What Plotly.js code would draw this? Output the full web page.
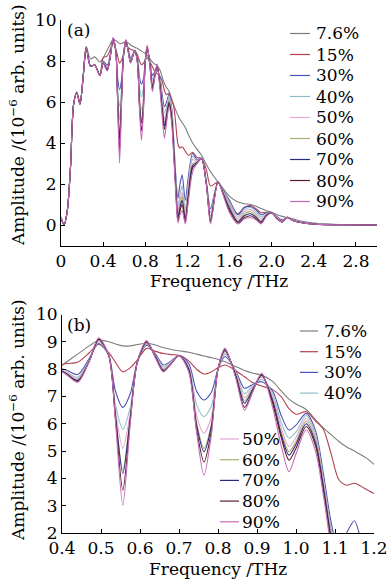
<!DOCTYPE html>
<html><head><meta charset="utf-8">
<script src="https://cdn.plot.ly/plotly-3.0.1.min.js"></script>
<style>html,body{margin:0;padding:0;background:#fff}#chart{width:391px;height:580px}</style>
</head><body><div id="chart"></div>
<script>
// Frequency grid (THz)
const freq = [0,0.03,0.06,0.09,0.12,0.15,0.18,0.21,0.24,0.28,0.32,0.37,0.40,0.44,0.47,0.494,0.52,0.537,0.556,0.575,0.593,0.617,0.64,0.66,0.68,0.70,0.725,0.745,0.764,0.783,0.80,0.818,0.845,0.868,0.89,0.912,0.94,0.962,0.982,1.0,1.026,1.05,1.07,1.09,1.11,1.13,1.15,1.18,1.21,1.25,1.29,1.334,1.38,1.42,1.49,1.55,1.60,1.68,1.74,1.80,1.85,1.90,1.95,2.00,2.05,2.10,2.15,2.20,2.30,2.40,2.50,2.70,3.00];
// Amplitude (10^-6 arb. units) per series
const s7_6 = [0.35,0.02,0.7,2.8,5.9,6.5,6.0,7.3,8.7,8.1,8.2,7.95,8.15,8.55,8.85,9.06,9.0,8.92,8.85,8.85,8.9,8.95,8.88,8.78,8.72,8.67,8.62,8.55,8.48,8.42,8.36,8.27,8.1,7.95,7.85,7.78,7.55,7.2,6.9,6.72,6.52,6.15,5.85,5.6,5.35,5.15,5.0,4.75,4.4,4.0,3.7,3.4,2.95,2.6,2.1,1.7,1.4,1.12,1.04,1.0,0.92,0.8,0.7,0.62,0.5,0.42,0.36,0.3,0.17,0.1,0.06,0.02,0.0];
const s15 = [0.35,0.02,0.7,2.8,5.9,6.45,5.9,7.2,8.65,7.75,7.8,7.3,8.15,8.25,8.6,8.91,8.6,8.25,7.9,8.05,8.33,8.76,8.65,8.57,8.53,8.51,8.3,8.0,7.82,7.9,8.05,8.15,7.95,7.72,7.5,7.38,7.25,6.99,6.55,6.35,6.44,6.1,5.8,4.9,3.95,3.75,3.82,3.6,3.4,3.55,3.3,3.25,2.7,1.9,2.1,1.5,1.0,0.55,0.85,0.95,0.8,0.6,0.62,0.6,0.4,0.25,0.35,0.25,0.12,0.06,0.03,0.01,0];
const s30 = [0.35,0.02,0.7,2.8,5.9,6.45,5.9,7.2,8.65,7.75,7.8,7.3,8.0,7.8,8.4,8.94,8.5,7.2,6.6,7.1,8.25,8.88,8.55,8.15,8.3,8.5,8.2,7.2,6.87,7.15,8.0,8.46,7.95,7.3,7.45,7.54,7.2,6.3,5.77,5.95,6.38,5.75,4.2,2.4,1.3,2.0,2.45,1.2,2.4,3.5,3.2,3.25,2.1,0.8,2.1,1.6,1.2,0.5,0.85,0.9,0.75,0.5,0.58,0.6,0.4,0.2,0.38,0.25,0.12,0.06,0.03,0.01,0];
const s40 = [0.35,0.02,0.7,2.8,5.9,6.45,5.9,7.2,8.65,7.75,7.8,7.3,7.95,7.7,8.35,9.0,8.5,6.7,5.8,6.6,8.25,8.92,8.5,8.08,8.28,8.5,8.1,6.7,6.26,6.65,8.0,8.55,7.9,7.1,7.4,7.62,7.1,6.05,5.47,5.7,6.3,5.6,4.0,2.15,0.9,1.5,1.9,0.8,2.1,3.35,3.15,3.25,2.05,0.6,2.1,1.55,1.1,0.4,0.75,0.85,0.65,0.4,0.55,0.6,0.38,0.18,0.38,0.25,0.12,0.06,0.03,0.01,0];
const s50 = [0.35,0.02,0.7,2.8,5.9,6.45,5.9,7.2,8.65,7.75,7.8,7.3,7.95,7.65,8.3,9.05,8.5,6.5,5.1,6.4,8.25,8.96,8.48,8.02,8.25,8.5,8.05,6.3,5.65,6.25,8.0,8.6,7.9,6.95,7.35,7.7,7.0,5.85,5.16,5.5,6.2,5.5,3.9,2.0,0.7,1.2,1.6,0.6,1.9,3.2,3.1,3.25,2.0,0.45,2.1,1.5,1.0,0.3,0.65,0.75,0.55,0.3,0.52,0.6,0.36,0.17,0.38,0.24,0.11,0.05,0.03,0.01,0];
const s60 = [0.35,0.02,0.7,2.8,5.9,6.45,5.9,7.2,8.65,7.75,7.8,7.3,7.92,7.6,8.3,9.1,8.5,6.35,4.3,6.25,8.25,9.0,8.46,7.98,8.22,8.5,8.0,6.05,5.1,6.0,8.0,8.65,7.85,6.85,7.3,7.75,6.9,5.7,4.98,5.35,6.1,5.4,3.8,1.9,0.5,1.0,1.4,0.4,1.7,3.0,3.05,3.25,2.0,0.35,2.1,1.45,0.9,0.2,0.55,0.65,0.45,0.2,0.5,0.6,0.34,0.16,0.38,0.23,0.1,0.05,0.02,0.01,0];
const s70 = [0.35,0.02,0.7,2.8,5.9,6.45,5.9,7.2,8.65,7.75,7.8,7.3,7.9,7.58,8.3,9.1,8.5,6.3,4.18,6.2,8.25,9.0,8.45,7.95,8.2,8.5,8.0,5.95,4.98,5.9,8.0,8.68,7.8,6.75,7.28,7.78,6.85,5.6,4.85,5.25,6.0,5.3,3.7,1.8,0.35,0.85,1.2,0.3,1.5,2.9,3.05,3.25,2.0,0.25,2.1,1.4,0.8,0.15,0.45,0.55,0.38,0.15,0.48,0.6,0.32,0.15,0.38,0.22,0.1,0.05,0.02,0.01,0];
const s80 = [0.35,0.02,0.7,2.8,5.9,6.45,5.9,7.2,8.65,7.75,7.8,7.3,7.9,7.55,8.3,9.1,8.5,6.2,3.57,6.1,8.25,9.0,8.42,7.92,8.2,8.5,7.95,5.8,4.6,5.75,8.0,8.72,7.75,6.6,7.22,7.82,6.75,5.5,4.67,5.1,5.9,5.2,3.6,1.7,0.2,0.7,1.0,0.15,1.4,2.8,3.0,3.25,2.0,0.15,2.1,1.35,0.7,0.1,0.35,0.45,0.3,0.1,0.45,0.6,0.3,0.15,0.38,0.22,0.1,0.05,0.02,0.01,0];
const s90 = [0.35,0.02,0.7,2.8,5.9,6.45,5.9,7.2,8.65,7.75,7.8,7.3,7.88,7.52,8.3,9.15,8.5,6.1,3.02,6.0,8.25,9.05,8.4,7.9,8.2,8.5,7.9,5.7,4.12,5.6,8.0,8.76,7.7,6.5,7.2,7.85,6.6,5.2,4.24,4.9,5.77,5.0,3.4,1.5,0.1,0.5,0.7,0.05,1.2,2.6,3.0,3.25,2.0,0.05,2.1,1.3,0.6,0.05,0.3,0.35,0.25,0.05,0.42,0.6,0.3,0.15,0.38,0.22,0.1,0.05,0.02,0.01,0];
const seriesNames = ['7.6%','15%','30%','40%','50%','60%','70%','80%','90%'];
const seriesData = [s7_6,s15,s30,s40,s50,s60,s70,s80,s90];
// tick labels
const xTicksA = [0,0.4,0.8,1.2,1.6,2.0,2.4,2.8];
const xTickTextA = ['0','0.4','0.8','1.2','1.6','2.0','2.4','2.8'];
const yTicksA = [0,2,4,6,8,10];
const xTicksB = [0.4,0.5,0.6,0.7,0.8,0.9,1.0,1.1,1.2];
const xTickTextB = ['0.4','0.5','0.6','0.7','0.8','0.9','1.0','1.1','1.2'];
const yTicksB = [2,3,4,5,6,7,8,9,10];

const colors = ['#7d7d7d','#b3404c','#5050b4','#8fc0c8','#e6a6cf','#a9b06c','#2b2b7c','#5c1c2c','#c46cba'];
const FONT = 'DejaVu Serif, serif';
const W = 391, H = 580, ML = 61, MR = 14, MT = 20, MB = 47;
const PW = W - ML - MR, PH = H - MT - MB;
const X = px => (px - ML) / PW;
const Y = py => (H - MB - py) / PH;

const traces = [];
seriesData.forEach((d, i) => {
  const ln = {color: colors[i], width: 1.1, shape: 'spline', smoothing: 0.8};
  traces.push({x: freq, y: d, name: seriesNames[i], type: 'scatter', mode: 'lines', line: ln, xaxis: 'x', yaxis: 'y', showlegend: false, hoverinfo: 'skip'});
  traces.push({x: freq, y: d, name: seriesNames[i], type: 'scatter', mode: 'lines', line: ln, xaxis: 'x2', yaxis: 'y2', showlegend: false, hoverinfo: 'skip'});
});

const axCommon = {showline: true, linecolor: '#000', linewidth: 1, ticks: 'inside', ticklen: 4, tickcolor: '#000', showgrid: false, zeroline: false, mirror: false, automargin: false, tickfont: {family: FONT, size: 17, color: '#000'}};

const annotations = [];
const shapes = [];
function legendItem(i, lx0, lx1, tx, ty) {
  shapes.push({type: 'line', xref: 'paper', yref: 'paper', x0: X(lx0), x1: X(lx1), y0: Y(ty), y1: Y(ty), line: {color: colors[i], width: 1.2}});
  annotations.push({xref: 'paper', yref: 'paper', x: X(tx), y: Y(ty), xanchor: 'left', yanchor: 'middle', text: seriesNames[i], showarrow: false, font: {family: FONT, size: 17, color: '#000'}});
}
seriesNames.forEach((n, i) => legendItem(i, 290, 310, 314, 33.5 + 21 * i));
for (let i = 0; i < 4; i++) legendItem(i, 300, 318, 322, 331 + 20.7 * i);
for (let i = 4; i < 9; i++) legendItem(i, 220, 239, 240, 439 + 20.7 * (i - 4));

const ytitle = 'Amplitude /(10<sup>−6</sup> arb. units)';
annotations.push({xref: 'paper', yref: 'paper', x: X(17), y: Y(125), text: ytitle, textangle: -90, showarrow: false, xanchor: 'center', yanchor: 'middle', font: {family: FONT, size: 17, color: '#000'}});
annotations.push({xref: 'paper', yref: 'paper', x: X(17), y: Y(420), text: ytitle, textangle: -90, showarrow: false, xanchor: 'center', yanchor: 'middle', font: {family: FONT, size: 17, color: '#000'}});
annotations.push({xref: 'paper', yref: 'paper', x: X(219), y: Y(281), text: 'Frequency /THz', showarrow: false, xanchor: 'center', yanchor: 'middle', font: {family: FONT, size: 17, color: '#000'}});
annotations.push({xref: 'paper', yref: 'paper', x: X(218), y: Y(569), text: 'Frequency /THz', showarrow: false, xanchor: 'center', yanchor: 'middle', font: {family: FONT, size: 17, color: '#000'}});
annotations.push({xref: 'paper', yref: 'paper', x: X(65), y: Y(30), text: '(a)', showarrow: false, xanchor: 'left', yanchor: 'middle', font: {family: FONT, size: 17, color: '#000'}});
annotations.push({xref: 'paper', yref: 'paper', x: X(65), y: Y(325), text: '(b)', showarrow: false, xanchor: 'left', yanchor: 'middle', font: {family: FONT, size: 17, color: '#000'}});

const layout = {
  width: W, height: H,
  margin: {l: ML, r: MR, t: MT, b: MB, pad: 0},
  paper_bgcolor: '#fff', plot_bgcolor: '#fff',
  showlegend: false,
  font: {family: FONT, size: 17, color: '#000'},
  xaxis: Object.assign({}, axCommon, {domain: [0, 1], range: [0, 3.0], tickvals: xTicksA, ticktext: xTickTextA, anchor: 'y'}),
  yaxis: Object.assign({}, axCommon, {domain: [Y(245.5), 1], range: [-1, 10], tickvals: yTicksA, anchor: 'x'}),
  xaxis2: Object.assign({}, axCommon, {domain: [X(62), X(374)], range: [0.4, 1.2], tickvals: xTicksB, ticktext: xTickTextB, anchor: 'y2'}),
  yaxis2: Object.assign({}, axCommon, {domain: [0, Y(314.5)], range: [2, 10], tickvals: yTicksB, anchor: 'x2'}),
  annotations: annotations,
  shapes: shapes
};
Plotly.newPlot('chart', traces, layout, {staticPlot: true, displayModeBar: false});
</script></body></html>
